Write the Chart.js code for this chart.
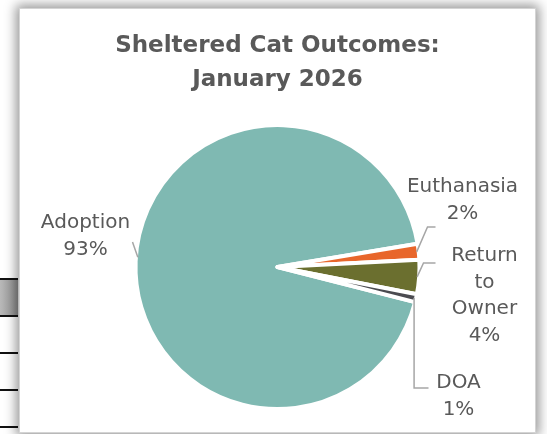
<!DOCTYPE html>
<html lang="en">
<head>
    <meta charset="UTF-8">
    <title>Sheltered Cat Outcomes: January 2026</title>
    <script src="https://cdn.jsdelivr.net/npm/chart.js"></script>
    <style>
        body { margin: 0; background: #fff; width: 547px; height: 434px; overflow: hidden; position: relative; }
        .rule { position: absolute; left: 0; width: 18px; height: 2px; background: #111; }
        .shade { position: absolute; left: 0; width: 18px; top: 280px; height: 35px;
                 background: linear-gradient(to right, #b9b9b9, #8f8f8f); }
        #frame { position: absolute; left: 19px; top: 8px; width: 515px; height: 423px;
                 border: 1px solid #d4d4d4; background: #fff;
                 box-shadow: 0 0 11px 3px rgba(0, 0, 0, 0.42); }
        #myChart { position: absolute; left: 0; top: 0; }
    </style>
</head>
<body>
    <!-- bits of the spreadsheet showing behind the chart -->
    <div class="shade"></div>
    <div class="rule" style="top:278px"></div>
    <div class="rule" style="top:315px"></div>
    <div class="rule" style="top:352px"></div>
    <div class="rule" style="top:389px"></div>
    <div class="rule" style="top:426px"></div>

    <div id="frame">
        <canvas id="myChart" width="515" height="423"></canvas>
    </div>

    <script>
        // Outcome data (share of outcomes, %)
        const categories = ["Adoption", "Euthanasia", "Return to Owner", "DOA"];
        const shares = [93.4, 1.8, 3.9, 0.9];
        const labelLines = [["Adoption"], ["Euthanasia"], ["Return", "to", "Owner"], ["DOA"]];
        const titleLines = ["Sheltered Cat Outcomes:", "January 2026"];

        const sliceColors = ["#7fb9b2", "#e8662b", "#6b6f2f", "#4b4b50"];
        const textColor = "#595959";
        const leaderColor = "#a6a6a6";

        // Label placement relative to pie centre, plus leader-line elbows
        const labelPlace = [
            { dx: -192, dy: -44, leader: [[-145, -25]], edgeAngle: 184 },
            { dx: 185, dy: -80, leader: [[158, -40], [150, -40]] },
            { dx: 207, dy: -11, leader: [[158, -4], [146, -4]] },
            { dx: 181, dy: 116, leader: [[151, 121], ["edge", 121]] }
        ];
        const lineGap = 26.5;

        const outsideLabels = {
            id: "outsideLabels",
            afterDatasetsDraw(chart) {
                const ctx = chart.ctx;
                const arcs = chart.getDatasetMeta(0).data;
                ctx.save();
                arcs.forEach((arc, i) => {
                    const { x, y, startAngle, endAngle, outerRadius } =
                        arc.getProps(["x", "y", "startAngle", "endAngle", "outerRadius"], true);
                    const place = labelPlace[i];
                    const mid = place.edgeAngle !== undefined
                        ? place.edgeAngle * Math.PI / 180
                        : (startAngle + endAngle) / 2;
                    const r = outerRadius - 2;
                    const ex = x + Math.cos(mid) * r;
                    const ey = y + Math.sin(mid) * r;

                    // leader line
                    ctx.strokeStyle = leaderColor;
                    ctx.lineWidth = 1.5;
                    ctx.beginPath();
                    place.leader.forEach((p, k) => {
                        const px = p[0] === "edge" ? ex : x + p[0];
                        const py = y + p[1];
                        if (k === 0) ctx.moveTo(px, py); else ctx.lineTo(px, py);
                    });
                    ctx.lineTo(ex, ey);
                    ctx.stroke();

                    // label text
                    const lines = labelLines[i].concat([Math.round(shares[i]) + "%"]);
                    ctx.fillStyle = textColor;
                    ctx.font = "20px 'DejaVu Sans'";
                    ctx.textAlign = "center";
                    ctx.textBaseline = "middle";
                    lines.forEach((t, k) => {
                        ctx.fillText(t, x + place.dx, y + place.dy + k * lineGap);
                    });
                });
                ctx.restore();
            }
        };

        const ctx = document.getElementById("myChart").getContext("2d");
        new Chart(ctx, {
            type: "pie",
            data: {
                labels: categories,
                datasets: [{
                    data: shares,
                    backgroundColor: sliceColors,
                    borderColor: "#ffffff",
                    borderWidth: 4,
                    borderJoinStyle: "round",
                    radius: 142,
                    rotation: 104.3
                }]
            },
            options: {
                responsive: false,
                animation: false,
                devicePixelRatio: 1,
                layout: { padding: { top: 0, bottom: 7, left: 0, right: 0 } },
                plugins: {
                    legend: { display: false },
                    tooltip: { enabled: false },
                    title: {
                        display: true,
                        text: titleLines,
                        color: textColor,
                        font: { family: "'DejaVu Sans'", size: 23, weight: "bold", lineHeight: 1.48 },
                        padding: { top: 20, bottom: 12 }
                    }
                }
            },
            plugins: [outsideLabels]
        });
    </script>
</body>
</html>
